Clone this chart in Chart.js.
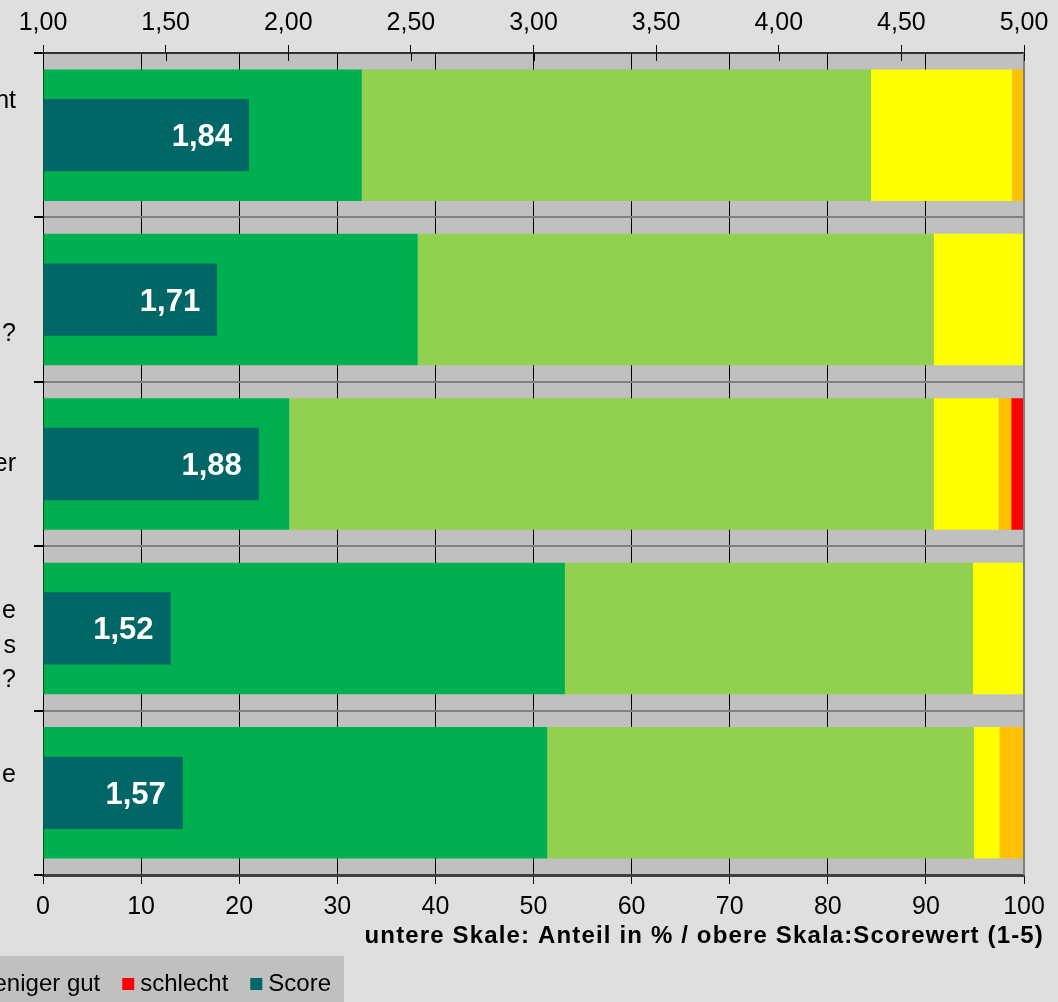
<!DOCTYPE html>
<html><head><meta charset="utf-8">
<script src="https://cdn.jsdelivr.net/npm/chart.js@4/dist/chart.umd.min.js"></script>
<style>
html,body{margin:0;padding:0;background:#dfdfdf;overflow:hidden}
#wrap{position:relative;width:1058px;height:1002px}
canvas{display:block}
</style></head><body>
<div id="wrap"><canvas id="c" width="1058" height="1002"></canvas></div>
<script>
// Category labels (only the visible, right-hand fragments of the wrapped labels)
const categories = [["nt","",""],["","","?"],["er"],["","e","s","?"],["e",""]];
const seriesNames = ["sehr gut","gut","mittel","weniger gut","schlecht","Score"];
const sehrGut    = [32.5, 38.2, 25.1, 53.2, 51.4];
const gut        = [51.9, 52.6, 65.7, 41.6, 43.5];
const mittel     = [14.4,  9.2,  6.6,  5.2,  2.6];
const wenigerGut = [ 1.2,  0.0,  1.3,  0.0,  2.5];
const schlecht   = [ 0.0,  0.0,  1.3,  0.0,  0.0];
const score      = [1.84, 1.71, 1.88, 1.52, 1.57];
const colors = ["#00b050","#92d050","#ffff00","#ffc000","#ff0000","#006666"];
const bottomTitle = "untere Skale: Anteil in % / obere Skala:Scorewert (1-5)";
const FONT = "'Liberation Sans', Arial, sans-serif";

const fmt2 = v => v.toFixed(2).replace('.', ',');

const plotBg = {
  id:'plotBg',
  beforeDraw(chart){
    const {ctx, chartArea:a} = chart;
    ctx.save(); ctx.fillStyle = '#c0c0c0';
    ctx.fillRect(a.left, a.top, a.right - a.left, a.bottom - a.top);
    ctx.restore();
  }
};

const extras = {
  id:'extras',
  afterDraw(chart){
    const {ctx, chartArea:a} = chart;
    ctx.save();
    // right border
    ctx.strokeStyle = '#808080'; ctx.lineWidth = 2;
    ctx.beginPath(); ctx.moveTo(a.right, a.top); ctx.lineTo(a.right, a.bottom); ctx.stroke();
    // inner half of the top axis cross tick marks
    const s2 = chart.scales.x2;
    ctx.strokeStyle = '#000'; ctx.lineWidth = 1;
    s2.ticks.forEach(t => {
      const px = Math.round(s2.getPixelForValue(t.value)) + 0.5;
      ctx.beginPath(); ctx.moveTo(px, a.top); ctx.lineTo(px, a.top + 8); ctx.stroke();
    });
    // score value labels
    const meta = chart.getDatasetMeta(0);
    ctx.fillStyle = '#ffffff';
    ctx.font = "bold 31px " + FONT;
    ctx.textAlign = 'right'; ctx.textBaseline = 'alphabetic';
    meta.data.forEach((el, i) => {
      ctx.fillText(fmt2(score[i]), el.x - 17, el.y + 11);
    });
    // bottom axis title
    ctx.fillStyle = '#000000';
    ctx.font = "bold 24px " + FONT;
    ctx.textAlign = 'right';
    try { ctx.letterSpacing = '1.15px'; } catch(e) {}
    ctx.fillText(bottomTitle, 1044, 943);
    try { ctx.letterSpacing = '0px'; } catch(e) {}
    // legend box
    ctx.fillStyle = '#c0c0c0';
    ctx.fillRect(0, 956, 344, 46);
    ctx.font = "24px " + FONT;
    ctx.textAlign = 'left';
    let x = 331;
    for (let i = seriesNames.length - 1; i >= 0; i--) {
      const w = ctx.measureText(seriesNames[i]).width;
      ctx.fillStyle = '#000000';
      ctx.fillText(seriesNames[i], x - w, 991);
      ctx.fillStyle = colors[i];
      ctx.fillRect(x - w - 6 - 12, 978, 12, 12);
      x = x - w - 6 - 12 - 22;
    }
    ctx.restore();
  }
};

const stackedNames = [sehrGut, gut, mittel, wenigerGut, schlecht];
const datasets = [{
  label: seriesNames[5], data: score, backgroundColor: colors[5],
  xAxisID: 'x2', grouped: false, base: 1,
  barPercentage: 0.44, categoryPercentage: 1
}];
stackedNames.forEach((arr, i) => datasets.push({
  label: seriesNames[i], data: arr, backgroundColor: colors[i],
  xAxisID: 'x', barPercentage: 0.8, categoryPercentage: 1, borderWidth: 0
}));

new Chart(document.getElementById('c'), {
  type: 'bar',
  data: { labels: categories, datasets },
  plugins: [plotBg, extras],
  options: {
    indexAxis: 'y', responsive: false, animation: false, devicePixelRatio: 1,
    layout: { padding: { left: 0, right: 34, top: 0, bottom: 0 } },
    plugins: { legend: { display: false }, tooltip: { enabled: false } },
    scales: {
      x: {
        type: 'linear', position: 'bottom', stacked: true, min: 0, max: 100,
        afterFit(s){ s.height = 127; },
        ticks: { stepSize: 10, color: '#000', padding: 8, font: { family: FONT, size: 25 } },
        grid: { color: '#000', lineWidth: 1, tickLength: 9, tickColor: '#000' },
        border: { color: '#404040', width: 3 }
      },
      x2: {
        type: 'linear', position: 'top', min: 1, max: 5,
        afterFit(s){ s.height = 53; },
        ticks: { stepSize: 0.5, color: '#000', padding: 7, font: { family: FONT, size: 25 },
                 callback: v => fmt2(v) },
        grid: { drawOnChartArea: false, tickLength: 8, tickColor: '#000', lineWidth: 1 },
        border: { color: '#303030', width: 2 }
      },
      y: {
        type: 'category', stacked: true, offset: true,
        afterFit(s){ s.width = 43; },
        ticks: { color: '#000', padding: 18, font: { family: FONT, size: 25, lineHeight: 1.38 } },
        grid: { offset: true, color: '#808080', lineWidth: 2, tickLength: 9, tickColor: '#000' },
        border: { color: '#000', width: 1 }
      }
    }
  }
});
</script>
</body></html>
